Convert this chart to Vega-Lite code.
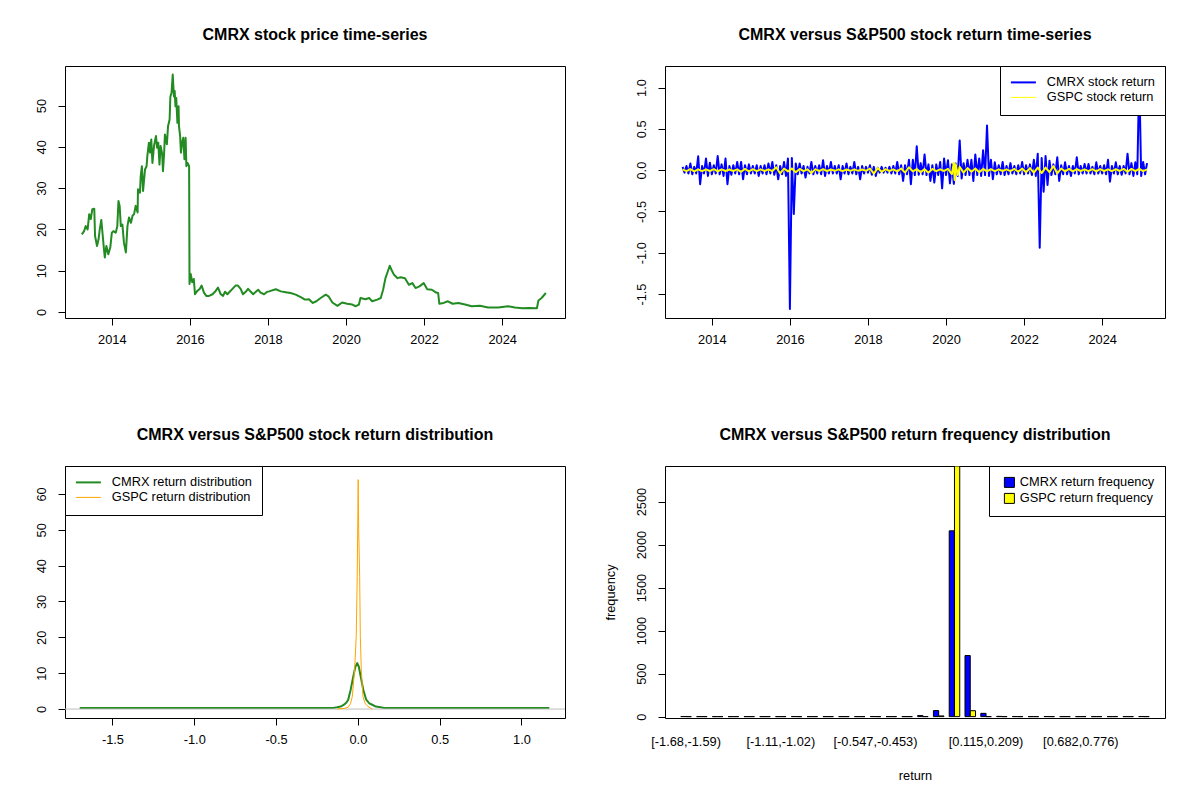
{
  "$schema": "https://vega.github.io/schema/vega-lite/v6.json",
  "background": "white",
  "padding": {"left": 34, "top": 26, "right": 10, "bottom": 10},
  "columns": 2,
  "spacing": {"row": 148, "column": 100},
  "bounds": "flush",
  "resolve": {"scale": {"color": "independent"}, "legend": {"color": "independent"}},
  "config": {
    "font": "Liberation Sans",
    "view": {"stroke": "black", "strokeWidth": 1},
    "title": {"font": "Liberation Sans", "fontSize": 16, "fontWeight": "bold", "color": "black", "anchor": "middle", "frame": "group", "baseline": "alphabetic", "offset": 23},
    "axis": {"domain": false, "grid": false, "ticks": true, "tickColor": "black", "tickSize": 7, "labelFont": "Liberation Sans", "labelFontSize": 12.8, "labelColor": "black", "labelPadding": 8, "labelFlush": false, "labelOverlap": false, "labelBound": false, "titleFont": "Liberation Sans", "titleFontSize": 12.8, "titleFontWeight": "normal", "titleColor": "black"},
    "axisY": {"labelAngle": -90, "labelAlign": "center", "labelBaseline": "bottom", "labelPadding": 10},
    "legend": {"title": null, "strokeColor": "black", "fillColor": "white", "padding": 10, "cornerRadius": 0, "offset": 0, "labelFont": "Liberation Sans", "labelFontSize": 12.8, "labelColor": "black", "labelOffset": 17, "symbolOffset": 7, "rowPadding": 1, "symbolType": "stroke", "symbolSize": 625, "zindex": 1}
  },
  "datasets": {
    "price": [
      {"t": 2013.23, "p": 18.8}, {"t": 2013.29, "p": 19.6}, {"t": 2013.33, "p": 20.8}, {"t": 2013.38, "p": 20.0},
      {"t": 2013.42, "p": 23.7}, {"t": 2013.46, "p": 22.5}, {"t": 2013.50, "p": 24.9}, {"t": 2013.55, "p": 25.0},
      {"t": 2013.57, "p": 18.4}, {"t": 2013.62, "p": 16.0}, {"t": 2013.66, "p": 17.6}, {"t": 2013.69, "p": 20.0},
      {"t": 2013.73, "p": 22.3}, {"t": 2013.76, "p": 19.2}, {"t": 2013.79, "p": 16.0}, {"t": 2013.82, "p": 13.2},
      {"t": 2013.86, "p": 16.0}, {"t": 2013.91, "p": 14.0}, {"t": 2013.96, "p": 15.6}, {"t": 2014.00, "p": 19.2},
      {"t": 2014.04, "p": 19.6}, {"t": 2014.10, "p": 19.2}, {"t": 2014.14, "p": 20.8}, {"t": 2014.17, "p": 26.9},
      {"t": 2014.20, "p": 25.7}, {"t": 2014.23, "p": 20.8}, {"t": 2014.27, "p": 21.2}, {"t": 2014.31, "p": 16.8},
      {"t": 2014.36, "p": 14.4}, {"t": 2014.40, "p": 20.8}, {"t": 2014.44, "p": 22.9}, {"t": 2014.49, "p": 21.6},
      {"t": 2014.53, "p": 23.3}, {"t": 2014.57, "p": 23.7}, {"t": 2014.61, "p": 25.7}, {"t": 2014.66, "p": 24.1},
      {"t": 2014.67, "p": 29.7}, {"t": 2014.72, "p": 28.9}, {"t": 2014.74, "p": 32.9}, {"t": 2014.77, "p": 35.3},
      {"t": 2014.80, "p": 29.3}, {"t": 2014.85, "p": 34.5}, {"t": 2014.89, "p": 35.3}, {"t": 2014.91, "p": 37.8},
      {"t": 2014.95, "p": 41.0}, {"t": 2014.98, "p": 38.6}, {"t": 2015.01, "p": 41.8}, {"t": 2015.04, "p": 36.1},
      {"t": 2015.08, "p": 40.2}, {"t": 2015.13, "p": 42.6}, {"t": 2015.16, "p": 39.8}, {"t": 2015.19, "p": 41.0},
      {"t": 2015.22, "p": 35.7}, {"t": 2015.25, "p": 40.2}, {"t": 2015.29, "p": 38.2}, {"t": 2015.31, "p": 34.1},
      {"t": 2015.34, "p": 38.6}, {"t": 2015.36, "p": 43.0}, {"t": 2015.41, "p": 40.6}, {"t": 2015.44, "p": 45.0},
      {"t": 2015.48, "p": 46.6}, {"t": 2015.50, "p": 52.2}, {"t": 2015.53, "p": 53.1}, {"t": 2015.56, "p": 57.5},
      {"t": 2015.59, "p": 52.2}, {"t": 2015.61, "p": 53.5}, {"t": 2015.63, "p": 49.8}, {"t": 2015.65, "p": 51.8},
      {"t": 2015.68, "p": 45.8}, {"t": 2015.71, "p": 49.8}, {"t": 2015.72, "p": 45.0}, {"t": 2015.75, "p": 42.6},
      {"t": 2015.77, "p": 38.6}, {"t": 2015.80, "p": 41.0}, {"t": 2015.83, "p": 42.2}, {"t": 2015.86, "p": 37.0},
      {"t": 2015.89, "p": 42.2}, {"t": 2015.91, "p": 35.3}, {"t": 2015.94, "p": 36.1}, {"t": 2015.98, "p": 35.3},
      {"t": 2015.99, "p": 6.8}, {"t": 2016.02, "p": 9.2}, {"t": 2016.06, "p": 7.2}, {"t": 2016.10, "p": 8.0},
      {"t": 2016.13, "p": 4.3}, {"t": 2016.19, "p": 5.1}, {"t": 2016.25, "p": 5.6}, {"t": 2016.30, "p": 6.4},
      {"t": 2016.36, "p": 4.7}, {"t": 2016.42, "p": 3.9}, {"t": 2016.49, "p": 3.9}, {"t": 2016.58, "p": 4.3},
      {"t": 2016.66, "p": 5.1}, {"t": 2016.72, "p": 5.9}, {"t": 2016.79, "p": 4.3}, {"t": 2016.85, "p": 3.9},
      {"t": 2016.90, "p": 4.9}, {"t": 2016.96, "p": 4.3}, {"t": 2017.02, "p": 4.9}, {"t": 2017.09, "p": 5.6},
      {"t": 2017.17, "p": 6.4}, {"t": 2017.23, "p": 6.4}, {"t": 2017.30, "p": 5.6}, {"t": 2017.36, "p": 4.3},
      {"t": 2017.43, "p": 4.9}, {"t": 2017.49, "p": 5.6}, {"t": 2017.56, "p": 4.9}, {"t": 2017.62, "p": 4.3},
      {"t": 2017.69, "p": 4.9}, {"t": 2017.75, "p": 5.4}, {"t": 2017.81, "p": 4.7}, {"t": 2017.90, "p": 4.3},
      {"t": 2017.98, "p": 4.9}, {"t": 2018.03, "p": 5.0}, {"t": 2018.20, "p": 5.5}, {"t": 2018.33, "p": 5.0},
      {"t": 2018.45, "p": 4.8}, {"t": 2018.58, "p": 4.6}, {"t": 2018.71, "p": 4.2}, {"t": 2018.84, "p": 3.6},
      {"t": 2018.95, "p": 3.0}, {"t": 2019.05, "p": 3.1}, {"t": 2019.15, "p": 2.2}, {"t": 2019.24, "p": 2.6},
      {"t": 2019.35, "p": 3.4}, {"t": 2019.48, "p": 4.2}, {"t": 2019.55, "p": 3.8}, {"t": 2019.65, "p": 2.3},
      {"t": 2019.78, "p": 1.5}, {"t": 2019.90, "p": 2.3}, {"t": 2020.03, "p": 2.0}, {"t": 2020.16, "p": 1.8},
      {"t": 2020.25, "p": 1.4}, {"t": 2020.33, "p": 1.8}, {"t": 2020.37, "p": 3.4}, {"t": 2020.50, "p": 3.1},
      {"t": 2020.59, "p": 3.4}, {"t": 2020.67, "p": 2.6}, {"t": 2020.80, "p": 3.0}, {"t": 2020.89, "p": 3.4},
      {"t": 2020.95, "p": 5.4}, {"t": 2021.01, "p": 8.2}, {"t": 2021.07, "p": 9.8}, {"t": 2021.12, "p": 11.2},
      {"t": 2021.17, "p": 10.1}, {"t": 2021.23, "p": 9.0}, {"t": 2021.32, "p": 8.2}, {"t": 2021.40, "p": 8.4},
      {"t": 2021.51, "p": 8.2}, {"t": 2021.61, "p": 6.6}, {"t": 2021.70, "p": 7.0}, {"t": 2021.78, "p": 5.8},
      {"t": 2021.88, "p": 6.2}, {"t": 2021.99, "p": 7.0}, {"t": 2022.08, "p": 5.5}, {"t": 2022.20, "p": 5.4},
      {"t": 2022.31, "p": 4.7}, {"t": 2022.36, "p": 4.6}, {"t": 2022.39, "p": 2.0}, {"t": 2022.50, "p": 2.2},
      {"t": 2022.61, "p": 2.6}, {"t": 2022.73, "p": 2.0}, {"t": 2022.88, "p": 2.2}, {"t": 2023.05, "p": 1.8},
      {"t": 2023.22, "p": 1.4}, {"t": 2023.43, "p": 1.5}, {"t": 2023.64, "p": 1.1}, {"t": 2023.90, "p": 1.1},
      {"t": 2024.15, "p": 1.4}, {"t": 2024.33, "p": 1.1}, {"t": 2024.51, "p": 0.9}, {"t": 2024.68, "p": 1.0},
      {"t": 2024.89, "p": 0.9}, {"t": 2024.93, "p": 2.8}, {"t": 2025.01, "p": 3.4}, {"t": 2025.12, "p": 4.6}
    ],
    "cmrx_ret": [
      {"t": 2013.25, "r": 0.04}, {"t": 2013.30, "r": -0.03}, {"t": 2013.35, "r": 0.05}, {"t": 2013.40, "r": -0.04},
      {"t": 2013.45, "r": 0.08}, {"t": 2013.50, "r": -0.05}, {"t": 2013.55, "r": 0.04}, {"t": 2013.60, "r": -0.04},
      {"t": 2013.65, "r": 0.167}, {"t": 2013.70, "r": -0.17}, {"t": 2013.75, "r": 0.05}, {"t": 2013.80, "r": -0.04},
      {"t": 2013.85, "r": 0.14}, {"t": 2013.90, "r": -0.07}, {"t": 2013.95, "r": 0.09}, {"t": 2014.00, "r": -0.05},
      {"t": 2014.05, "r": 0.06}, {"t": 2014.10, "r": -0.04}, {"t": 2014.15, "r": 0.17}, {"t": 2014.20, "r": -0.05},
      {"t": 2014.25, "r": 0.07}, {"t": 2014.30, "r": -0.07}, {"t": 2014.35, "r": 0.14}, {"t": 2014.40, "r": -0.17},
      {"t": 2014.45, "r": 0.05}, {"t": 2014.50, "r": -0.056}, {"t": 2014.55, "r": 0.06}, {"t": 2014.60, "r": -0.04},
      {"t": 2014.65, "r": 0.10}, {"t": 2014.70, "r": -0.05}, {"t": 2014.75, "r": 0.10}, {"t": 2014.80, "r": -0.11},
      {"t": 2014.85, "r": 0.06}, {"t": 2014.90, "r": -0.05}, {"t": 2014.95, "r": 0.07}, {"t": 2015.00, "r": -0.04},
      {"t": 2015.05, "r": 0.05}, {"t": 2015.10, "r": -0.04}, {"t": 2015.15, "r": 0.06}, {"t": 2015.20, "r": -0.07},
      {"t": 2015.25, "r": 0.05}, {"t": 2015.30, "r": -0.04}, {"t": 2015.35, "r": 0.06}, {"t": 2015.40, "r": -0.05},
      {"t": 2015.45, "r": 0.08}, {"t": 2015.50, "r": -0.04}, {"t": 2015.55, "r": 0.10}, {"t": 2015.60, "r": -0.056},
      {"t": 2015.65, "r": 0.06}, {"t": 2015.70, "r": -0.11}, {"t": 2015.75, "r": 0.05}, {"t": 2015.80, "r": -0.05},
      {"t": 2015.85, "r": 0.10}, {"t": 2015.90, "r": -0.07}, {"t": 2015.95, "r": 0.14}, {"t": 2016.00, "r": -1.68},
      {"t": 2016.05, "r": 0.147}, {"t": 2016.10, "r": -0.53}, {"t": 2016.15, "r": 0.08}, {"t": 2016.20, "r": -0.05},
      {"t": 2016.25, "r": 0.08}, {"t": 2016.30, "r": -0.04}, {"t": 2016.35, "r": 0.05}, {"t": 2016.40, "r": -0.09},
      {"t": 2016.45, "r": 0.04}, {"t": 2016.50, "r": -0.04}, {"t": 2016.55, "r": 0.10}, {"t": 2016.60, "r": -0.05},
      {"t": 2016.65, "r": 0.05}, {"t": 2016.70, "r": -0.04}, {"t": 2016.75, "r": 0.06}, {"t": 2016.80, "r": -0.05},
      {"t": 2016.85, "r": 0.12}, {"t": 2016.90, "r": -0.07}, {"t": 2016.95, "r": 0.05}, {"t": 2017.00, "r": -0.04},
      {"t": 2017.05, "r": 0.10}, {"t": 2017.10, "r": -0.04}, {"t": 2017.15, "r": 0.05}, {"t": 2017.20, "r": -0.04},
      {"t": 2017.25, "r": 0.06}, {"t": 2017.30, "r": -0.11}, {"t": 2017.35, "r": 0.05}, {"t": 2017.40, "r": -0.04},
      {"t": 2017.45, "r": 0.08}, {"t": 2017.50, "r": -0.05}, {"t": 2017.55, "r": 0.04}, {"t": 2017.60, "r": -0.04},
      {"t": 2017.65, "r": 0.10}, {"t": 2017.70, "r": -0.05}, {"t": 2017.75, "r": 0.04}, {"t": 2017.80, "r": -0.11},
      {"t": 2017.85, "r": 0.05}, {"t": 2017.90, "r": -0.04}, {"t": 2017.95, "r": 0.04}, {"t": 2018.00, "r": -0.03},
      {"t": 2018.05, "r": 0.06}, {"t": 2018.10, "r": -0.056}, {"t": 2018.15, "r": 0.04}, {"t": 2018.20, "r": -0.07},
      {"t": 2018.25, "r": 0.03}, {"t": 2018.30, "r": -0.03}, {"t": 2018.35, "r": 0.04}, {"t": 2018.40, "r": -0.03},
      {"t": 2018.45, "r": 0.03}, {"t": 2018.50, "r": -0.03}, {"t": 2018.55, "r": 0.04}, {"t": 2018.60, "r": -0.04},
      {"t": 2018.65, "r": 0.05}, {"t": 2018.70, "r": -0.04}, {"t": 2018.75, "r": 0.10}, {"t": 2018.80, "r": -0.05},
      {"t": 2018.85, "r": 0.06}, {"t": 2018.90, "r": -0.13}, {"t": 2018.95, "r": 0.06}, {"t": 2019.00, "r": -0.05},
      {"t": 2019.05, "r": 0.125}, {"t": 2019.10, "r": -0.17}, {"t": 2019.15, "r": 0.125}, {"t": 2019.20, "r": -0.06},
      {"t": 2019.25, "r": 0.29}, {"t": 2019.30, "r": -0.056}, {"t": 2019.35, "r": 0.085}, {"t": 2019.40, "r": -0.05},
      {"t": 2019.45, "r": 0.19}, {"t": 2019.50, "r": -0.06}, {"t": 2019.55, "r": 0.07}, {"t": 2019.60, "r": -0.13},
      {"t": 2019.65, "r": 0.06}, {"t": 2019.70, "r": -0.15}, {"t": 2019.75, "r": 0.07}, {"t": 2019.80, "r": -0.06},
      {"t": 2019.85, "r": 0.10}, {"t": 2019.90, "r": -0.22}, {"t": 2019.95, "r": 0.14}, {"t": 2020.00, "r": -0.06},
      {"t": 2020.05, "r": 0.12}, {"t": 2020.10, "r": -0.16}, {"t": 2020.15, "r": 0.07}, {"t": 2020.20, "r": -0.165},
      {"t": 2020.25, "r": 0.08}, {"t": 2020.30, "r": -0.07}, {"t": 2020.35, "r": 0.36}, {"t": 2020.40, "r": -0.10},
      {"t": 2020.45, "r": 0.085}, {"t": 2020.50, "r": -0.06}, {"t": 2020.55, "r": 0.125}, {"t": 2020.60, "r": -0.06},
      {"t": 2020.65, "r": 0.125}, {"t": 2020.70, "r": -0.13}, {"t": 2020.75, "r": 0.19}, {"t": 2020.80, "r": -0.06},
      {"t": 2020.85, "r": 0.14}, {"t": 2020.90, "r": -0.07}, {"t": 2020.95, "r": 0.24}, {"t": 2021.00, "r": -0.06},
      {"t": 2021.05, "r": 0.54}, {"t": 2021.10, "r": -0.07}, {"t": 2021.15, "r": 0.125}, {"t": 2021.20, "r": -0.11},
      {"t": 2021.25, "r": 0.095}, {"t": 2021.30, "r": -0.05}, {"t": 2021.35, "r": 0.06}, {"t": 2021.40, "r": -0.05},
      {"t": 2021.45, "r": 0.10}, {"t": 2021.50, "r": -0.06}, {"t": 2021.55, "r": 0.05}, {"t": 2021.60, "r": -0.05},
      {"t": 2021.65, "r": 0.085}, {"t": 2021.70, "r": -0.04}, {"t": 2021.75, "r": 0.05}, {"t": 2021.80, "r": -0.05},
      {"t": 2021.85, "r": 0.06}, {"t": 2021.90, "r": -0.04}, {"t": 2021.95, "r": 0.10}, {"t": 2022.00, "r": -0.05},
      {"t": 2022.05, "r": 0.06}, {"t": 2022.10, "r": -0.04}, {"t": 2022.15, "r": 0.07}, {"t": 2022.20, "r": -0.06},
      {"t": 2022.25, "r": 0.125}, {"t": 2022.30, "r": -0.07}, {"t": 2022.35, "r": 0.20}, {"t": 2022.40, "r": -0.94},
      {"t": 2022.45, "r": 0.147}, {"t": 2022.50, "r": -0.26}, {"t": 2022.55, "r": 0.17}, {"t": 2022.60, "r": -0.18},
      {"t": 2022.65, "r": 0.115}, {"t": 2022.70, "r": -0.06}, {"t": 2022.75, "r": 0.07}, {"t": 2022.80, "r": -0.05},
      {"t": 2022.85, "r": 0.155}, {"t": 2022.90, "r": -0.13}, {"t": 2022.95, "r": 0.06}, {"t": 2023.00, "r": -0.05},
      {"t": 2023.05, "r": 0.095}, {"t": 2023.10, "r": -0.05}, {"t": 2023.15, "r": 0.05}, {"t": 2023.20, "r": -0.07},
      {"t": 2023.25, "r": 0.05}, {"t": 2023.30, "r": -0.04}, {"t": 2023.35, "r": 0.155}, {"t": 2023.40, "r": -0.05},
      {"t": 2023.45, "r": 0.05}, {"t": 2023.50, "r": -0.04}, {"t": 2023.55, "r": 0.075}, {"t": 2023.60, "r": -0.04},
      {"t": 2023.65, "r": 0.075}, {"t": 2023.70, "r": -0.04}, {"t": 2023.75, "r": 0.04}, {"t": 2023.80, "r": -0.05},
      {"t": 2023.85, "r": 0.095}, {"t": 2023.90, "r": -0.04}, {"t": 2023.95, "r": 0.05}, {"t": 2024.00, "r": -0.04},
      {"t": 2024.05, "r": 0.06}, {"t": 2024.10, "r": -0.05}, {"t": 2024.15, "r": 0.125}, {"t": 2024.20, "r": -0.14},
      {"t": 2024.25, "r": 0.05}, {"t": 2024.30, "r": -0.04}, {"t": 2024.35, "r": 0.095}, {"t": 2024.40, "r": -0.05},
      {"t": 2024.45, "r": 0.05}, {"t": 2024.50, "r": -0.056}, {"t": 2024.55, "r": 0.05}, {"t": 2024.60, "r": -0.04},
      {"t": 2024.65, "r": 0.20}, {"t": 2024.70, "r": -0.05}, {"t": 2024.75, "r": 0.085}, {"t": 2024.80, "r": -0.07},
      {"t": 2024.85, "r": 0.095}, {"t": 2024.90, "r": -0.05}, {"t": 2024.95, "r": 1.15}, {"t": 2025.00, "r": -0.07},
      {"t": 2025.05, "r": 0.10}, {"t": 2025.10, "r": -0.05}, {"t": 2025.15, "r": 0.085}
    ],
    "gspc_ret": [
      {"t": 2013.25, "r": 0.01}, {"t": 2013.35, "r": -0.012}, {"t": 2013.45, "r": 0.012}, {"t": 2013.55, "r": -0.015},
      {"t": 2013.65, "r": 0.01}, {"t": 2013.75, "r": -0.012}, {"t": 2013.85, "r": 0.01}, {"t": 2013.95, "r": -0.01},
      {"t": 2014.05, "r": 0.012}, {"t": 2014.15, "r": -0.015}, {"t": 2014.25, "r": 0.01}, {"t": 2014.35, "r": -0.01},
      {"t": 2014.45, "r": 0.008}, {"t": 2014.55, "r": -0.01}, {"t": 2014.65, "r": 0.01}, {"t": 2014.75, "r": -0.02},
      {"t": 2014.85, "r": 0.015}, {"t": 2014.95, "r": -0.015}, {"t": 2015.05, "r": 0.012}, {"t": 2015.15, "r": -0.012},
      {"t": 2015.25, "r": 0.01}, {"t": 2015.35, "r": -0.01}, {"t": 2015.45, "r": 0.01}, {"t": 2015.55, "r": -0.012},
      {"t": 2015.65, "r": 0.035}, {"t": 2015.75, "r": -0.04}, {"t": 2015.85, "r": 0.02}, {"t": 2015.95, "r": -0.015},
      {"t": 2016.05, "r": 0.02}, {"t": 2016.15, "r": -0.025}, {"t": 2016.25, "r": 0.015}, {"t": 2016.35, "r": -0.012},
      {"t": 2016.45, "r": 0.01}, {"t": 2016.55, "r": -0.036}, {"t": 2016.65, "r": 0.012}, {"t": 2016.75, "r": -0.01},
      {"t": 2016.85, "r": 0.012}, {"t": 2016.95, "r": -0.01}, {"t": 2017.05, "r": 0.008}, {"t": 2017.15, "r": -0.008},
      {"t": 2017.25, "r": 0.01}, {"t": 2017.35, "r": -0.012}, {"t": 2017.45, "r": 0.008}, {"t": 2017.55, "r": -0.008},
      {"t": 2017.65, "r": 0.01}, {"t": 2017.75, "r": -0.008}, {"t": 2017.85, "r": 0.008}, {"t": 2017.95, "r": -0.008},
      {"t": 2018.05, "r": 0.02}, {"t": 2018.15, "r": -0.042}, {"t": 2018.25, "r": 0.025}, {"t": 2018.35, "r": -0.02},
      {"t": 2018.45, "r": 0.012}, {"t": 2018.55, "r": -0.01}, {"t": 2018.65, "r": 0.01}, {"t": 2018.75, "r": -0.015},
      {"t": 2018.85, "r": 0.02}, {"t": 2018.95, "r": -0.03}, {"t": 2019.05, "r": 0.035}, {"t": 2019.15, "r": -0.015},
      {"t": 2019.25, "r": 0.012}, {"t": 2019.35, "r": -0.025}, {"t": 2019.45, "r": 0.012}, {"t": 2019.55, "r": -0.03},
      {"t": 2019.65, "r": 0.015}, {"t": 2019.75, "r": -0.012}, {"t": 2019.85, "r": 0.01}, {"t": 2019.95, "r": -0.01},
      {"t": 2020.05, "r": 0.015}, {"t": 2020.15, "r": -0.05}, {"t": 2020.20, "r": 0.09}, {"t": 2020.22, "r": -0.12},
      {"t": 2020.25, "r": 0.07}, {"t": 2020.30, "r": -0.06}, {"t": 2020.35, "r": 0.04}, {"t": 2020.45, "r": -0.03},
      {"t": 2020.55, "r": 0.025}, {"t": 2020.65, "r": -0.02}, {"t": 2020.75, "r": 0.02}, {"t": 2020.85, "r": -0.025},
      {"t": 2020.95, "r": 0.015}, {"t": 2021.05, "r": -0.015}, {"t": 2021.15, "r": 0.012}, {"t": 2021.25, "r": -0.012},
      {"t": 2021.35, "r": 0.01}, {"t": 2021.45, "r": -0.01}, {"t": 2021.55, "r": 0.01}, {"t": 2021.65, "r": -0.012},
      {"t": 2021.75, "r": 0.015}, {"t": 2021.85, "r": -0.02}, {"t": 2021.95, "r": 0.02}, {"t": 2022.05, "r": -0.025},
      {"t": 2022.15, "r": 0.025}, {"t": 2022.25, "r": -0.03}, {"t": 2022.35, "r": 0.03}, {"t": 2022.45, "r": -0.035},
      {"t": 2022.55, "r": 0.03}, {"t": 2022.65, "r": -0.025}, {"t": 2022.75, "r": 0.05}, {"t": 2022.85, "r": -0.04},
      {"t": 2022.95, "r": 0.02}, {"t": 2023.05, "r": -0.015}, {"t": 2023.15, "r": 0.015}, {"t": 2023.25, "r": -0.015},
      {"t": 2023.35, "r": 0.012}, {"t": 2023.45, "r": -0.01}, {"t": 2023.55, "r": 0.01}, {"t": 2023.65, "r": -0.012},
      {"t": 2023.75, "r": 0.012}, {"t": 2023.85, "r": -0.015}, {"t": 2023.95, "r": 0.012}, {"t": 2024.05, "r": -0.01},
      {"t": 2024.15, "r": 0.01}, {"t": 2024.25, "r": -0.012}, {"t": 2024.35, "r": 0.012}, {"t": 2024.45, "r": -0.01},
      {"t": 2024.55, "r": 0.015}, {"t": 2024.65, "r": -0.02}, {"t": 2024.75, "r": 0.015}, {"t": 2024.85, "r": -0.012},
      {"t": 2024.95, "r": 0.015}, {"t": 2025.05, "r": -0.012}, {"t": 2025.15, "r": 0.01}
    ],
    "cmrx_dens": [
      {"x": -1.70, "d": 0.3}, {"x": -0.15, "d": 0.3}, {"x": -0.126, "d": 0.5}, {"x": -0.10, "d": 0.8},
      {"x": -0.085, "d": 1.2}, {"x": -0.07, "d": 1.8}, {"x": -0.059, "d": 2.6}, {"x": -0.044, "d": 5.4},
      {"x": -0.028, "d": 9.1}, {"x": -0.015, "d": 11.8}, {"x": -0.004, "d": 12.8}, {"x": 0.006, "d": 11.8},
      {"x": 0.017, "d": 9.1}, {"x": 0.033, "d": 5.4}, {"x": 0.051, "d": 2.6}, {"x": 0.07, "d": 1.6},
      {"x": 0.088, "d": 1.2}, {"x": 0.11, "d": 0.7}, {"x": 0.139, "d": 0.5}, {"x": 0.16, "d": 0.3},
      {"x": 1.17, "d": 0.3}
    ],
    "gspc_dens": [
      {"x": -0.126, "d": 0}, {"x": -0.08, "d": 0.2}, {"x": -0.059, "d": 0.5}, {"x": -0.045, "d": 1.5},
      {"x": -0.034, "d": 3.5}, {"x": -0.02, "d": 10.9}, {"x": -0.01, "d": 20.2}, {"x": -0.004, "d": 36.9},
      {"x": 0.0, "d": 55}, {"x": 0.002, "d": 64}, {"x": 0.005, "d": 50}, {"x": 0.011, "d": 36.9},
      {"x": 0.015, "d": 20.2}, {"x": 0.021, "d": 10.9}, {"x": 0.031, "d": 3.5}, {"x": 0.045, "d": 1.5},
      {"x": 0.068, "d": 0.5}, {"x": 0.088, "d": 0}
    ],
    "freq": [
      {"bin": "[-1.68,-1.59)", "s": "CMRX return frequency", "n": 1}, {"bin": "[-1.68,-1.59)", "s": "GSPC return frequency", "n": 0},
      {"bin": "[-1.59,-1.49)", "s": "CMRX return frequency", "n": 0}, {"bin": "[-1.59,-1.49)", "s": "GSPC return frequency", "n": 0},
      {"bin": "[-1.49,-1.4)", "s": "CMRX return frequency", "n": 0}, {"bin": "[-1.49,-1.4)", "s": "GSPC return frequency", "n": 0},
      {"bin": "[-1.4,-1.3)", "s": "CMRX return frequency", "n": 0}, {"bin": "[-1.4,-1.3)", "s": "GSPC return frequency", "n": 0},
      {"bin": "[-1.3,-1.21)", "s": "CMRX return frequency", "n": 0}, {"bin": "[-1.3,-1.21)", "s": "GSPC return frequency", "n": 0},
      {"bin": "[-1.21,-1.11)", "s": "CMRX return frequency", "n": 0}, {"bin": "[-1.21,-1.11)", "s": "GSPC return frequency", "n": 0},
      {"bin": "[-1.11,-1.02)", "s": "CMRX return frequency", "n": 0}, {"bin": "[-1.11,-1.02)", "s": "GSPC return frequency", "n": 0},
      {"bin": "[-1.02,-0.925)", "s": "CMRX return frequency", "n": 1}, {"bin": "[-1.02,-0.925)", "s": "GSPC return frequency", "n": 0},
      {"bin": "[-0.925,-0.831)", "s": "CMRX return frequency", "n": 0}, {"bin": "[-0.925,-0.831)", "s": "GSPC return frequency", "n": 0},
      {"bin": "[-0.831,-0.736)", "s": "CMRX return frequency", "n": 0}, {"bin": "[-0.831,-0.736)", "s": "GSPC return frequency", "n": 0},
      {"bin": "[-0.736,-0.642)", "s": "CMRX return frequency", "n": 0}, {"bin": "[-0.736,-0.642)", "s": "GSPC return frequency", "n": 0},
      {"bin": "[-0.642,-0.547)", "s": "CMRX return frequency", "n": 0}, {"bin": "[-0.642,-0.547)", "s": "GSPC return frequency", "n": 0},
      {"bin": "[-0.547,-0.453)", "s": "CMRX return frequency", "n": 1}, {"bin": "[-0.547,-0.453)", "s": "GSPC return frequency", "n": 0},
      {"bin": "[-0.453,-0.358)", "s": "CMRX return frequency", "n": 0}, {"bin": "[-0.453,-0.358)", "s": "GSPC return frequency", "n": 0},
      {"bin": "[-0.358,-0.264)", "s": "CMRX return frequency", "n": 0}, {"bin": "[-0.358,-0.264)", "s": "GSPC return frequency", "n": 0},
      {"bin": "[-0.264,-0.169)", "s": "CMRX return frequency", "n": 12}, {"bin": "[-0.264,-0.169)", "s": "GSPC return frequency", "n": 0},
      {"bin": "[-0.169,-0.0745)", "s": "CMRX return frequency", "n": 70}, {"bin": "[-0.169,-0.0745)", "s": "GSPC return frequency", "n": 8},
      {"bin": "[-0.0745,0.02)", "s": "CMRX return frequency", "n": 2160}, {"bin": "[-0.0745,0.02)", "s": "GSPC return frequency", "n": 2914},
      {"bin": "[0.02,0.115)", "s": "CMRX return frequency", "n": 710}, {"bin": "[0.02,0.115)", "s": "GSPC return frequency", "n": 69},
      {"bin": "[0.115,0.209)", "s": "CMRX return frequency", "n": 38}, {"bin": "[0.115,0.209)", "s": "GSPC return frequency", "n": 0},
      {"bin": "[0.209,0.304)", "s": "CMRX return frequency", "n": 3}, {"bin": "[0.209,0.304)", "s": "GSPC return frequency", "n": 0},
      {"bin": "[0.304,0.398)", "s": "CMRX return frequency", "n": 1}, {"bin": "[0.304,0.398)", "s": "GSPC return frequency", "n": 0},
      {"bin": "[0.398,0.493)", "s": "CMRX return frequency", "n": 0}, {"bin": "[0.398,0.493)", "s": "GSPC return frequency", "n": 0},
      {"bin": "[0.493,0.587)", "s": "CMRX return frequency", "n": 1}, {"bin": "[0.493,0.587)", "s": "GSPC return frequency", "n": 0},
      {"bin": "[0.587,0.682)", "s": "CMRX return frequency", "n": 0}, {"bin": "[0.587,0.682)", "s": "GSPC return frequency", "n": 0},
      {"bin": "[0.682,0.776)", "s": "CMRX return frequency", "n": 0}, {"bin": "[0.682,0.776)", "s": "GSPC return frequency", "n": 0},
      {"bin": "[0.776,0.871)", "s": "CMRX return frequency", "n": 0}, {"bin": "[0.776,0.871)", "s": "GSPC return frequency", "n": 0},
      {"bin": "[0.871,0.965)", "s": "CMRX return frequency", "n": 0}, {"bin": "[0.871,0.965)", "s": "GSPC return frequency", "n": 0},
      {"bin": "[0.965,1.06)", "s": "CMRX return frequency", "n": 0}, {"bin": "[0.965,1.06)", "s": "GSPC return frequency", "n": 0},
      {"bin": "[1.06,1.15]", "s": "CMRX return frequency", "n": 1}, {"bin": "[1.06,1.15]", "s": "GSPC return frequency", "n": 0}
    ]
  },
  "concat": [
    {
      "title": "CMRX stock price time-series",
      "width": 500,
      "height": 252,
      "data": {"name": "price"},
      "mark": {"type": "line", "color": "#228B22", "strokeWidth": 2, "strokeJoin": "round", "clip": true},
      "encoding": {
        "x": {"field": "t", "type": "quantitative", "scale": {"domain": [2012.80, 2025.61], "nice": false, "zero": false}, "axis": {"values": [2014, 2016, 2018, 2020, 2022, 2024], "format": "d", "title": null}},
        "y": {"field": "p", "type": "quantitative", "scale": {"domain": [-1.45, 59.57], "nice": false, "zero": false}, "axis": {"values": [0, 10, 20, 30, 40, 50], "format": "d", "title": null}}
      }
    },
    {
      "title": "CMRX versus S&P500 stock return time-series",
      "width": 500,
      "height": 252,
      "encoding": {
        "x": {"field": "t", "type": "quantitative", "scale": {"domain": [2012.80, 2025.61], "nice": false, "zero": false}, "axis": {"values": [2014, 2016, 2018, 2020, 2022, 2024], "format": "d", "title": null}},
        "y": {"field": "r", "type": "quantitative", "scale": {"domain": [-1.79, 1.261], "nice": false, "zero": false}, "axis": {"values": [-1.5, -1, -0.5, 0, 0.5, 1], "labelExpr": "replace(format(datum.value, '.1f'), '\u2212', '-')", "title": null}}
      },
      "layer": [
        {
          "data": {"name": "cmrx_ret"},
          "mark": {"type": "line", "strokeWidth": 2, "strokeJoin": "round", "clip": true},
          "encoding": {
            "color": {
              "datum": "CMRX stock return",
              "scale": {"domain": ["CMRX stock return", "GSPC stock return"], "range": ["#0000FF", "#FFFF00"]},
              "legend": {"orient": "top-right", "encode": {"symbols": {"update": {"strokeWidth": {"signal": "datum.value === 'CMRX stock return' ? 2 : 1"}}}}}
            }
          }
        },
        {
          "data": {"name": "gspc_ret"},
          "mark": {"type": "line", "strokeWidth": 2, "strokeJoin": "round", "clip": true},
          "encoding": {"color": {"datum": "GSPC stock return"}}
        }
      ]
    },
    {
      "title": "CMRX versus S&P500 stock return distribution",
      "width": 500,
      "height": 252,
      "encoding": {
        "x": {"field": "x", "type": "quantitative", "scale": {"domain": [-1.79, 1.266], "nice": false, "zero": false}, "axis": {"values": [-1.5, -1, -0.5, 0, 0.5, 1], "labelExpr": "replace(format(datum.value, '.1f'), '\u2212', '-')", "title": null}},
        "y": {"field": "d", "type": "quantitative", "scale": {"domain": [-2.5, 67.8], "nice": false, "zero": false}, "axis": {"values": [0, 10, 20, 30, 40, 50, 60], "format": "d", "title": null}}
      },
      "layer": [
        {
          "data": {"name": "cmrx_dens"},
          "mark": {"type": "line", "strokeWidth": 2, "strokeJoin": "round", "clip": true},
          "encoding": {
            "color": {
              "datum": "CMRX return distribution",
              "scale": {"domain": ["CMRX return distribution", "GSPC return distribution"], "range": ["#228B22", "#FFA500"]},
              "legend": {"orient": "top-left", "encode": {"symbols": {"update": {"strokeWidth": {"signal": "datum.value === 'CMRX return distribution' ? 2 : 1"}}}}}
            }
          }
        },
        {
          "data": {"values": [{"z": 0}]},
          "mark": {"type": "rule", "color": "#BEBEBE", "strokeWidth": 1},
          "encoding": {"x": null, "y": {"field": "z", "type": "quantitative"}}
        },
        {
          "data": {"name": "gspc_dens"},
          "mark": {"type": "line", "strokeWidth": 1, "strokeJoin": "round", "clip": true},
          "encoding": {"color": {"datum": "GSPC return distribution"}}
        }
      ]
    },
    {
      "title": "CMRX versus S&P500 return frequency distribution",
      "width": 500,
      "height": 252,
      "data": {"name": "freq"},
      "mark": {"type": "bar", "stroke": "black", "strokeWidth": 1, "clip": true},
      "encoding": {
        "x": {
          "field": "bin", "type": "nominal", "sort": null,
          "scale": {"paddingInner": 0.3333, "paddingOuter": 1.12},
          "axis": {"values": ["[-1.68,-1.59)", "[-1.11,-1.02)", "[-0.547,-0.453)", "[0.115,0.209)", "[0.682,0.776)"], "labelAngle": 0, "ticks": false, "tickSize": 0, "labelPadding": 17, "title": "return", "titleY": 57, "titleBaseline": "middle"}
        },
        "xOffset": {"field": "s", "type": "nominal", "scale": {"paddingInner": 0, "paddingOuter": 0}},
        "y": {"field": "n", "type": "quantitative", "scale": {"domain": [-16, 2914], "nice": false, "zero": false}, "axis": {"values": [0, 500, 1000, 1500, 2000, 2500], "format": "d", "title": "frequency", "titleX": -54.5, "titleBaseline": "middle"}},
        "y2": {"datum": 0},
        "color": {
          "field": "s", "type": "nominal",
          "scale": {"domain": ["CMRX return frequency", "GSPC return frequency"], "range": ["#0000FF", "#FFFF00"]},
          "legend": {"orient": "top-right", "symbolType": "square", "symbolSize": 100, "symbolStrokeColor": "black", "symbolStrokeWidth": 1, "symbolOpacity": 1, "labelOffset": 4, "symbolOffset": 4}
        }
      }
    }
  ]
}
